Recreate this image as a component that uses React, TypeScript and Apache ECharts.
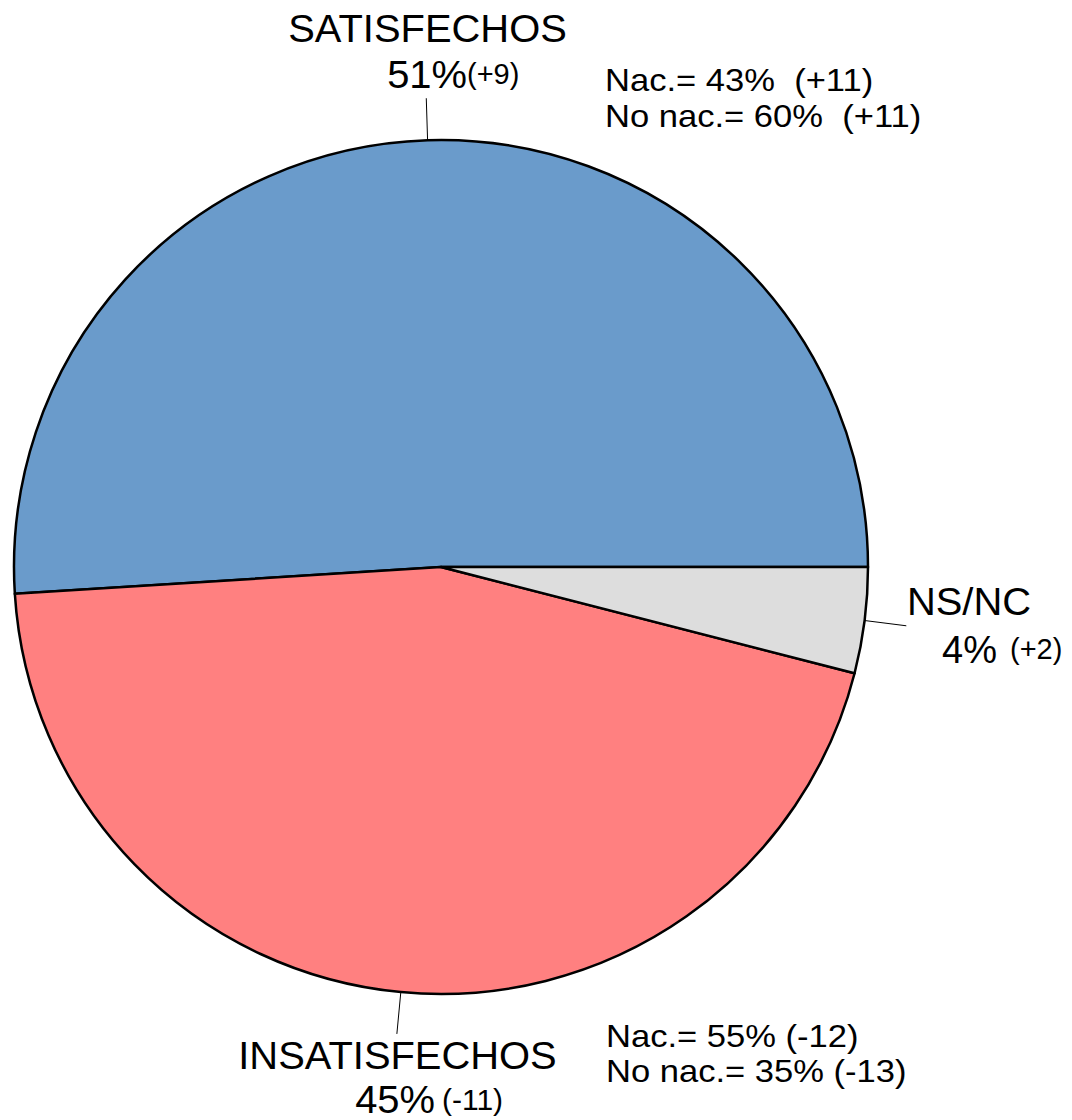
import React, { useEffect, useRef } from "react";
import * as echarts from "echarts";

const categories = ["SATISFECHOS", "INSATISFECHOS", "NS/NC"];
const values = [51, 45, 4];
const changes = ["(+9)", "(-11)", "(+2)"];
const colors = ["#6A9BCB", "#FF8080", "#DDDDDD"];

const nacLabels = ["Nac.= 43%  (+11)", "Nac.= 55% (-12)"];
const noNacLabels = ["No nac.= 60%  (+11)", "No nac.= 35% (-13)"];

const CX = 441;
const CY = 567;
const R = 427;
const FONT = "'Liberation Sans', Arial, sans-serif";

export default function App() {
  const ref = useRef<HTMLDivElement>(null);

  useEffect(() => {
    if (!ref.current) return;
    const chart = echarts.init(ref.current, undefined, { renderer: "svg" });

    const total = values.reduce((a, b) => a + b, 0);
    // start angle 0 (3 o'clock), counter-clockwise
    let acc = 0;
    const mids = values.map((v) => {
      const a0 = (acc / total) * 360;
      acc += v;
      const a1 = (acc / total) * 360;
      return ((a0 + a1) / 2) * (Math.PI / 180);
    });
    const leader = mids.map((m) => {
      const r1 = R;
      const r2 = R + 42;
      return {
        type: "line",
        shape: {
          x1: CX + r1 * Math.cos(m),
          y1: CY - r1 * Math.sin(m),
          x2: CX + r2 * Math.cos(m),
          y2: CY - r2 * Math.sin(m),
        },
        style: { stroke: "#000", lineWidth: 1 },
        z: 10,
      };
    });

    const txt = (
      text: string,
      x: number,
      y: number,
      size: number,
      align: string = "center",
      sx: number = 1
    ) => ({
      type: "text",
      x,
      y,
      scaleX: sx,
      z: 10,
      style: {
        text,
        fill: "#000",
        font: `${size}px ${FONT}`,
        lineHeight: Math.round(size * 0.8),
        align,
        verticalAlign: "middle",
      },
    });

    const MAIN = 38;
    const SMALL = 29;
    const ANN = 32;
    const MS = 1.05;
    const AS = 1.08;

    const graphic: any[] = [
      ...leader,
      // SATISFECHOS
      txt(categories[0], 427.5, 29, MAIN, "center", MS),
      txt(`${values[0]}%`, 467, 75, MAIN, "right", MS),
      txt(changes[0], 467, 74, SMALL, "left"),
      // INSATISFECHOS
      txt(categories[1], 397.5, 1056, MAIN, "center", MS),
      txt(`${values[1]}%`, 435, 1100, MAIN, "right", MS),
      txt(changes[1], 442, 1099, SMALL + 1, "left"),
      // NS/NC
      txt(categories[2], 969, 602, MAIN, "center", MS),
      txt(`${values[2]}%`, 942, 650, MAIN, "left"),
      txt(changes[2], 1010, 649, SMALL, "left"),
      // annotations
      txt(nacLabels[0], 605, 80, ANN, "left", AS),
      txt(noNacLabels[0], 605, 116, ANN, "left", AS),
      txt(nacLabels[1], 606, 1036, ANN, "left", AS),
      txt(noNacLabels[1], 606, 1071, ANN, "left", AS),
    ];

    chart.setOption({
      animation: false,
      backgroundColor: "#ffffff",
      graphic,
      series: [
        {
          type: "pie",
          center: [CX, CY],
          radius: R,
          startAngle: 0,
          clockwise: false,
          label: { show: false },
          labelLine: { show: false },
          emphasis: { disabled: true },
          itemStyle: { borderColor: "#000", borderWidth: 2.5 },
          data: categories.map((name, i) => ({
            name,
            value: values[i],
            itemStyle: { color: colors[i] },
          })),
        },
      ],
    });

    return () => chart.dispose();
  }, []);

  return (
    <div
      ref={ref}
      style={{ position: "fixed", left: 0, top: 0, width: 1072, height: 1120 }}
    />
  );
}
